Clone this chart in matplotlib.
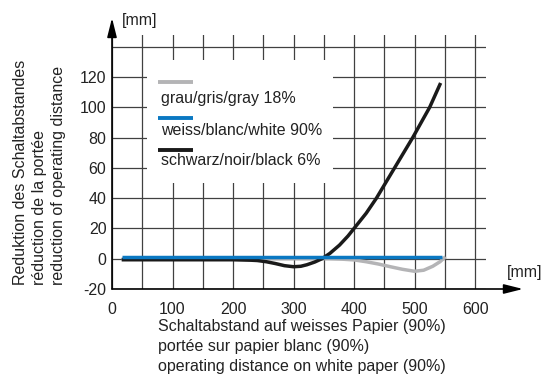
import matplotlib
matplotlib.use('Agg')
import matplotlib.pyplot as plt
from matplotlib.patches import Rectangle

plt.rcParams['font.family'] = ['Liberation Sans', 'DejaVu Sans']
plt.rcParams['font.size'] = 11.5

# ======================
# DATA
# ======================
blue_x = [16, 545]
blue_y = [1, 1]

black_x = [16, 200, 230, 240, 255, 270, 285, 300, 312, 322, 335, 347, 360, 376, 390, 400,
           420, 437, 452, 467, 482, 497, 511, 525, 534, 543]
black_y = [-0.7, -0.7, -1, -1.2, -2, -3.2, -4.6, -5.3, -5, -4, -2.2, 0, 3.5, 9, 15, 20,
           30, 40, 50, 60, 70, 80, 90, 100, 108, 116]

gray_x = [16, 360, 380, 400, 420, 440, 460, 480, 500, 515, 530, 542, 551]
gray_y = [0, 0, -0.3, -0.8, -2, -3.5, -5.3, -7, -8.3, -7.6, -5, -2, 1.3]

legend_labels = ['grau/gris/gray 18%', 'weiss/blanc/white 90%', 'schwarz/noir/black 6%']
ylabel_lines = ['Reduktion des Schaltabstandes', 'réduction de la portée',
                'reduction of operating distance']
xlabel_lines = ['Schaltabstand auf weisses Papier (90%)', 'portée sur papier blanc (90%)',
                'operating distance on white paper (90%)']

c_gray = '#b4b4b6'
c_blue = '#0a78c2'
c_black = '#1a1a1a'
txt = '#222222'

# ======================
# FIGURE
# ======================
fig = plt.figure(figsize=(5.55, 3.78), dpi=100)
ax = fig.add_axes([112 / 555, 89 / 378, 374 / 555, 254.5 / 378])
ax.set_xlim(0, 618)
ax.set_ylim(-20, 148)

ax.set_xticks(range(0, 700, 100))
ax.set_xticks(range(50, 650, 100), minor=True)
ax.set_yticks(range(-20, 160, 20))
ax.set_yticklabels([str(v) if v < 140 else '' for v in range(-20, 160, 20)])
ax.tick_params(which='both', length=0, labelsize=11.5, labelcolor=txt)
ax.tick_params(axis='x', pad=9)
ax.tick_params(axis='y', pad=4)
ax.grid(which='both', color='#404040', linewidth=0.9)
for s in ax.spines.values():
    s.set_visible(False)

# curves
ax.plot(gray_x, gray_y, color=c_gray, lw=2.5, solid_capstyle='butt', zorder=3)
ax.plot(black_x, black_y, color=c_black, lw=2.5, solid_capstyle='butt', zorder=4)
ax.plot(blue_x, blue_y, color=c_blue, lw=2.5, solid_capstyle='butt', zorder=5)

# axis arrows
arr = dict(arrowstyle='-|>,head_length=1.0,head_width=0.25', color='black', lw=1.2,
           shrinkA=0, shrinkB=0)
ax.annotate('', xy=(0, 1.065), xytext=(0, 0), xycoords='axes fraction',
            arrowprops=arr, annotation_clip=False)
ax.annotate('', xy=(1.099, 0), xytext=(0, 0), xycoords='axes fraction',
            arrowprops=arr, annotation_clip=False)
fig.text(122 / 555, 1 - 20 / 378, '[mm]', ha='left', va='center', fontsize=11.5, color=txt)
fig.text(507 / 555, 1 - 272 / 378, '[mm]', ha='left', va='center', fontsize=11.5, color=txt)

# legend box (line above text)
ax.add_patch(Rectangle((0.0936, 0.4165), 0.4974, 0.4833, transform=ax.transAxes,
                       facecolor='white', edgecolor='none', zorder=6))
line_y = [0.8145, 0.673, 0.546]
text_y = [0.750, 0.622, 0.504]
for col, ly, ty, lab in zip([c_gray, c_blue, c_black], line_y, text_y, legend_labels):
    ax.plot([0.123, 0.2166], [ly, ly], color=col, lw=2.8, transform=ax.transAxes,
            solid_capstyle='butt', zorder=7)
    ax.text(0.130, ty, lab, transform=ax.transAxes, ha='left', va='center',
            fontsize=11.5, color=txt, zorder=7)

# axis titles
for i, line in enumerate(ylabel_lines):
    fig.text((21 + 19 * i) / 555, 1 - 285 / 378, line, rotation=90, ha='center',
             va='bottom', fontsize=11.5, color=txt)
for i, line in enumerate(xlabel_lines):
    fig.text(158 / 555, 1 - (327 + 20 * i) / 378, line, ha='left', va='center',
             fontsize=11.5, color=txt)

fig.savefig('out.png', dpi=100)
